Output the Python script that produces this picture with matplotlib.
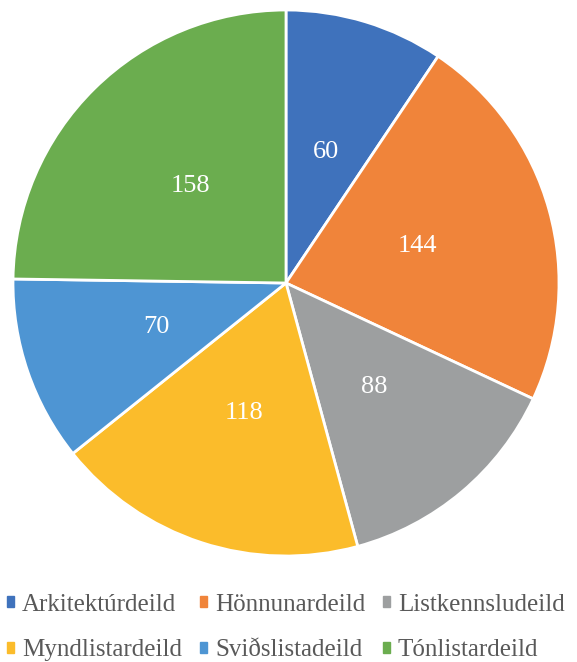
import matplotlib
matplotlib.use("Agg")
import matplotlib.pyplot as plt
from matplotlib.patches import Rectangle

categories = ["Arkitektúrdeild", "Hönnunardeild", "Listkennsludeild",
              "Myndlistardeild", "Sviðslistadeild", "Tónlistardeild"]
values = [60, 144, 88, 118, 70, 158]
colors = ["#3F72BC", "#F0843A", "#9D9FA0", "#FBBC2B", "#4E95D3", "#6BAD4F"]

plt.rcParams['font.family'] = ['Liberation Serif', 'DejaVu Serif']

fig = plt.figure(figsize=(5.77, 6.62), dpi=100)
cx, cy, r = 286 / 577, 1 - 283 / 662, 273
w, h = 2 * r / 577, 2 * r / 662
ax = fig.add_axes([cx - w / 2, cy - h / 2, w, h])

wedges, texts = ax.pie(values, colors=colors, startangle=90, counterclock=False,
                       labels=[str(v) for v in values], labeldistance=0.5,
                       wedgeprops=dict(edgecolor="white", linewidth=2),
                       textprops=dict(color="white", fontsize=19))
for t in texts:
    t.set_ha("center")
    t.set_va("center")
ax.set_xlim(-1, 1)
ax.set_ylim(-1, 1)
ax.set_aspect("equal")
ax.axis("off")

handles = [Rectangle((0, 0), 1, 1, color=c) for c in colors]
order = [0, 3, 1, 4, 2, 5]  # row-major layout in a 3-column legend
fig.legend([handles[i] for i in order], [categories[i] for i in order],
           ncol=3, loc="lower left", bbox_to_anchor=(7 / 577, 0.001),
           borderaxespad=0.0, borderpad=0.0, frameon=False, fontsize=18,
           labelcolor="#595959", handlelength=0.28, handleheight=0.28,
           handletextpad=0.33, columnspacing=0.7, labelspacing=0.95)

fig.savefig("out.png", dpi=100)
